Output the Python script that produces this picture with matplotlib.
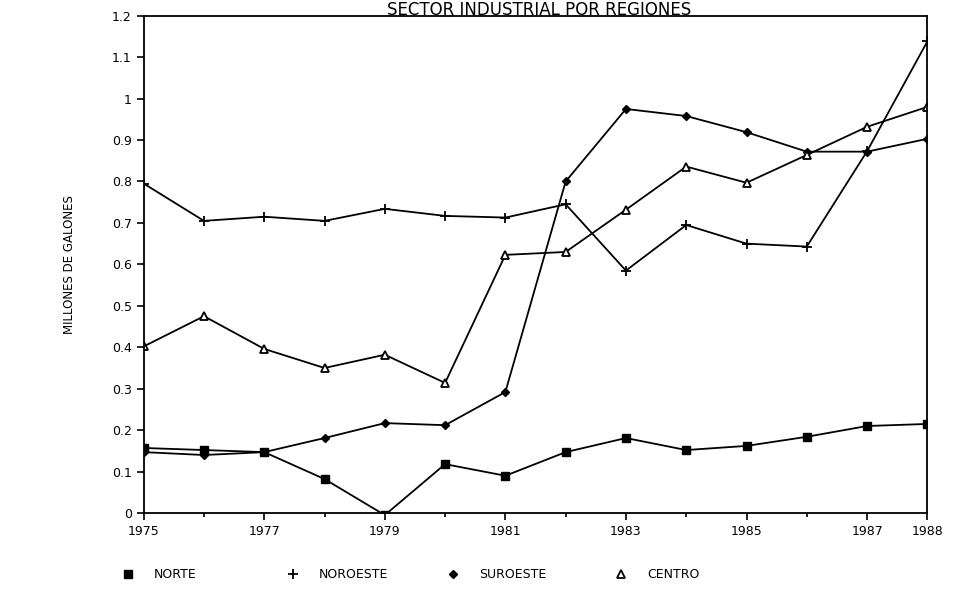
import numpy as np
import matplotlib
matplotlib.use("Agg")
import matplotlib.pyplot as plt

# años y series (millones de galones)
anios = np.arange(1975, 1989)
norte = [0.157, 0.152, 0.147, 0.082, -0.005, 0.118, 0.090, 0.147, 0.181, 0.152, 0.162, 0.184, 0.210, 0.215]
noroeste = [0.795, 0.705, 0.715, 0.705, 0.734, 0.717, 0.713, 0.745, 0.585, 0.695, 0.650, 0.643, 0.873, 1.138]
suroeste = [0.147, 0.140, 0.147, 0.181, 0.217, 0.212, 0.292, 0.800, 0.975, 0.958, 0.919, 0.872, 0.872, 0.903]
centro = [0.402, 0.475, 0.396, 0.350, 0.382, 0.314, 0.623, 0.630, 0.732, 0.836, 0.797, 0.864, 0.932, 0.980]

xt = [1975, 1977, 1979, 1981, 1983, 1985, 1987, 1988]
yt = np.round(np.arange(0, 1.21, 0.1), 1)

fig = plt.figure(figsize=(9.58, 6.05), dpi=100)
ax = fig.add_axes([0.150, 0.152, 0.818, 0.822])

lineas = []
lineas += ax.plot(anios, norte, 'k-', marker='s', ms=6, lw=1.3, label='NORTE')
lineas += ax.plot(anios, noroeste, 'k-', marker='+', ms=7, mew=1.3, lw=1.3, label='NOROESTE')
lineas += ax.plot(anios, suroeste, 'k-', marker='D', ms=4.5, lw=1.3, label='SUROESTE')
lineas += ax.plot(anios, centro, 'k-', marker='^', ms=6, mfc='white', mew=1.3, lw=1.3, label='CENTRO')

ax.set_xlim(1975, 1988)
ax.set_ylim(0, 1.2)
ax.set_xticks(anios, minor=True)
ax.set_xticks(xt)
ax.set_xticklabels([str(a) for a in xt])
ax.set_yticks(yt)
ax.set_yticklabels(['0'] + ['%g' % v for v in yt[1:]])
ax.tick_params(axis='both', labelsize=9, width=1.2, length=5, direction='out')
ax.tick_params(axis='x', which='minor', length=3, width=1.2)
for s in ax.spines.values():
    s.set_linewidth(1.3)

ax.set_ylabel('MILLONES DE GALONES', fontsize=8.5, labelpad=26)

fig.text(0.563, 0.999, 'SECTOR INDUSTRIAL POR REGIONES', ha='center', va='top',
         fontsize=12)

# leyenda abajo, una entrada por posicion
pos_x = [0.127, 0.299, 0.466, 0.642]
for ln, px in zip(lineas, pos_x):
    lg = fig.legend([ln], [ln.get_label()], loc='center left', bbox_to_anchor=(px, 0.05),
                    frameon=False, fontsize=9, handlelength=1, handletextpad=1.6,
                    numpoints=1, borderpad=0, borderaxespad=0)
    for h in lg.get_lines():
        h.set_linestyle('none')

fig.savefig('out.png', dpi=100)
